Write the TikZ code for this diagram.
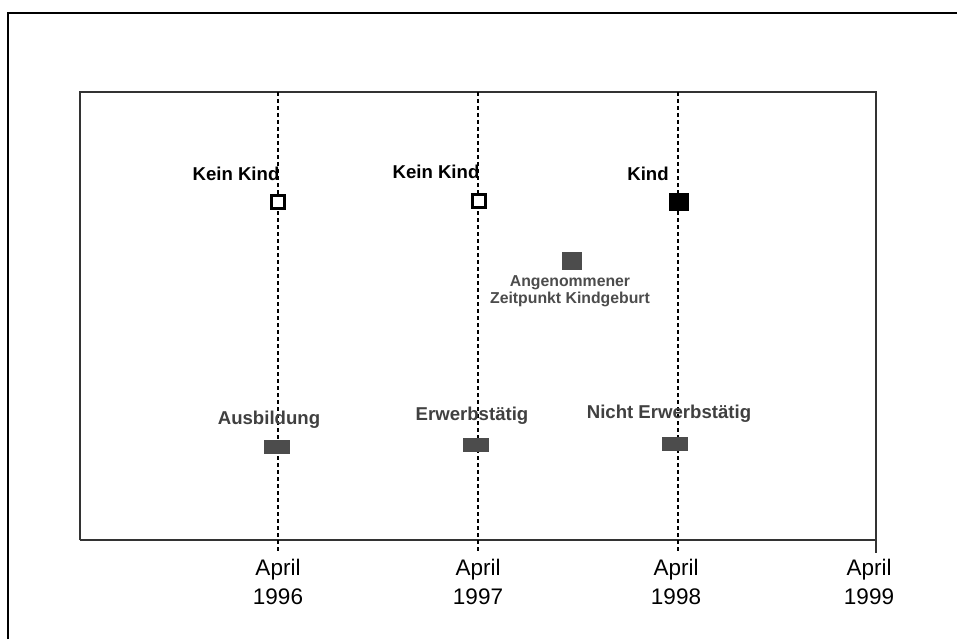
\documentclass[tikz,border=0pt]{standalone}
\usepackage{fontspec}
\setmainfont{Liberation Sans}
\begin{document}
\begin{tikzpicture}[x=1pt,y=-1pt,
  frame/.style={line width=2.5pt,black},
  plotbox/.style={draw=black!80,line width=1.3pt},
  vline/.style={black,line width=1.4pt,dash pattern=on 4pt off 3pt},
  emptybox/.style={draw=black,line width=3pt,fill=white,minimum width=13pt,minimum height=13pt,inner sep=0pt},
  fullbox/.style={draw=none,fill=black,minimum width=20pt,minimum height=18pt,inner sep=0pt},
  graybox/.style={draw=none,fill=black!70,minimum width=20pt,minimum height=18pt,inner sep=0pt},
  grayrect/.style={draw=none,fill=black!70,minimum width=26pt,minimum height=14pt,inner sep=0pt},
  lblblack/.style={font=\bfseries\fontsize{18.6}{20}\selectfont,text=black,inner sep=0pt},
  lblgray/.style={font=\bfseries\fontsize{18.6}{20}\selectfont,text=black!75,inner sep=0pt},
  lblsmall/.style={font=\bfseries\fontsize{15.8}{17.5}\selectfont,text=black!70,inner sep=0pt,align=center},
  year/.style={font=\fontsize{22.5}{29.5}\selectfont,inner sep=0pt,align=center}]
\useasboundingbox (0,0) rectangle (957,639);
\fill[white] (0,0) rectangle (957,639);
% outer frame (cropped at right and bottom)
\draw[frame] (8,639) -- (8,13) -- (957,13);
% plot box
\draw[plotbox] (80,540) -- (80,92) -- (876,92) -- (876,553);
\draw[black!80,line width=2pt] (80,540) -- (876,540);
% vertical dashed lines
\foreach \n/\x in {a/278,b/478,c/678}{
  \coordinate (\n top) at (\x,92);
  \coordinate (\n bot) at (\x,553);
  \draw[vline] (\n top) -- (\n bot);
}
% upper markers
\node[emptybox] (k1) at (278,202) {};
\node[emptybox] (k2) at (479,201) {};
\node[fullbox] (k3) at (679,202) {};
\node[lblblack] (t1) at (236,174) {Kein Kind};
\node[lblblack] (t2) at (436,172) {Kein Kind};
\node[lblblack] (t3) at (648,174) {Kind};
% assumed birth
\node[graybox] (ab) at (572,261) {};
\node[lblsmall] (abt) at (570,291) {Angenommener\\Zeitpunkt Kindgeburt};
% lower markers
\node[grayrect] (e1) at (277,447) {};
\node[grayrect] (e2) at (476,445) {};
\node[grayrect] (e3) at (675,444) {};
\node[lblgray] (u1) at (269,420) {Ausbildung};
\node[lblgray] (u2) at (472,416) {Erwerbstätig};
\node[lblgray] (u3) at (669,414) {Nicht Erwerbstätig};
% year labels
\node[year] (y1) at (278,582) {April\\1996};
\node[year] (y2) at (478,582) {April\\1997};
\node[year] (y3) at (676,582) {April\\1998};
\node[year] (y4) at (869,582) {April\\1999};
\end{tikzpicture}
\end{document}
